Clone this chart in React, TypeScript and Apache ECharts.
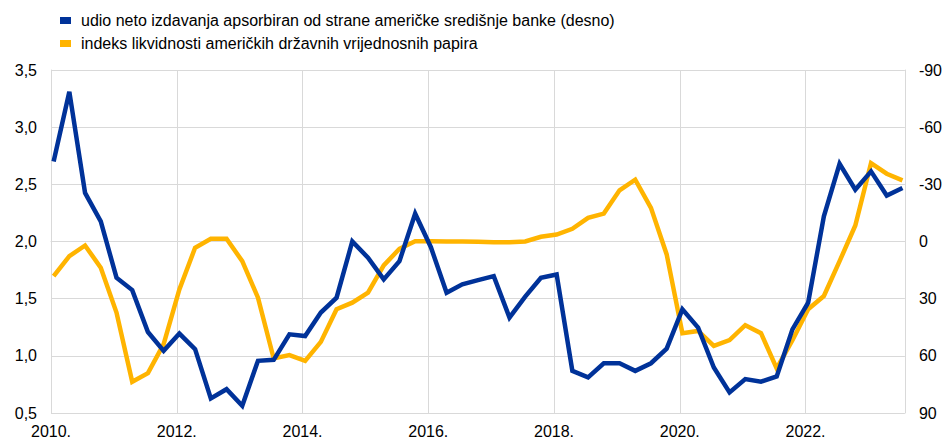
import React, { useEffect, useRef } from "react";
import * as echarts from "echarts";

// Quarterly observations, 2010 Q1 .. 2023 Q3
const startYear = 2010;
const quarterCount = 55;
const quarterDates: number[] = Array.from(
  { length: quarterCount },
  (_, i) => startYear + Math.floor(i / 4) + (i % 4) * 0.25 + 1 / 24
);

// Share of net issuance absorbed by the Fed (right axis, inverted)
const fedShare: number[] = [
  -42, -78.6, -25.5, -10.6, 19, 25.5, 47.5, 57.4, 48.3, 56.5, 82.3, 77.5, 86.2, 62.6,
  62.1, 48.7, 49.6, 37.3, 29.5, 0.0, 8.5, 19.9, 10.3, -14.6, 3, 26.9, 22.5, 20.3,
  18.2, 39.9, 28.9, 19.0, 17.3, 67.9, 71.3, 63.9, 63.9, 67.9, 63.9, 56.2, 35.6, 45.2,
  66.1, 79.2, 72.2, 73.6, 70.8, 46.1, 32.1, -13.2, -40.8, -27.2, -36.8, -24.1, -28.1,
];

// US Treasury liquidity index (left axis)
const liquidityIndex: number[] = [
  1.698, 1.872, 1.965, 1.771, 1.378, 0.773, 0.849, 1.102, 1.581, 1.945, 2.024, 2.024, 1.828, 1.509,
  0.977, 1.006, 0.956, 1.122, 1.407, 1.465, 1.552, 1.791, 1.936, 2.003, 2.003, 2.0, 2.0, 1.997,
  1.994, 1.994, 2.0, 2.041, 2.061, 2.111, 2.207, 2.244, 2.448, 2.541, 2.294, 1.887, 1.198, 1.218,
  1.087, 1.137, 1.268, 1.198, 0.89, 1.137, 1.407, 1.523, 1.828, 2.14, 2.686, 2.593, 2.535,
];

const seriesNames = [
  "udio neto izdavanja apsorbiran od strane američke središnje banke (desno)",
  "indeks likvidnosti američkih državnih vrijednosnih papira",
];

const BLUE = "#003299";
const YELLOW = "#ffb400";
const GRID = "#d9d9d9";
const FONT = "'Liberation Sans', Arial, sans-serif";

export default function App() {
  const ref = useRef<HTMLDivElement>(null);

  useEffect(() => {
    document.body.style.margin = "0";
    if (!ref.current) return;
    const chart = echarts.init(ref.current, null, { renderer: "svg" });
    const textBase = { fontFamily: FONT, fontSize: 16, color: "#000" };
    chart.setOption({
      animation: false,
      textStyle: { fontFamily: FONT },
      legend: {
        orient: "vertical",
        left: 55,
        top: 7,
        itemWidth: 11,
        itemHeight: 7,
        itemGap: 6,
        data: [
          { name: seriesNames[0], icon: "rect" },
          { name: seriesNames[1], icon: "rect" },
        ],
        textStyle: { ...textBase, lineHeight: 17, padding: [0, 0, 0, 5] },
      },
      grid: { left: 51, right: 37, top: 70, bottom: 25, containLabel: false },
      xAxis: {
        type: "value",
        min: 2010,
        max: 2023.58,
        interval: 2,
        axisLine: { show: true, lineStyle: { color: GRID, width: 1 } },
        axisTick: { show: false },
        splitLine: { show: true, lineStyle: { color: GRID, width: 1 } },
        axisLabel: {
          ...textBase,
          margin: 10,
          showMaxLabel: false,
          formatter: (v: number) => `${Math.round(v)}.`,
        },
      },
      yAxis: [
        {
          type: "value",
          position: "left",
          min: 0.5,
          max: 3.5,
          interval: 0.5,
          axisLine: { show: true, lineStyle: { color: GRID, width: 1 } },
          axisTick: { show: false },
          splitLine: { show: true, lineStyle: { color: GRID, width: 1 } },
          axisLabel: {
            ...textBase,
            margin: 14,
            formatter: (v: number) => v.toFixed(1).replace(".", ","),
          },
        },
        {
          type: "value",
          position: "right",
          min: -90,
          max: 90,
          interval: 30,
          inverse: true,
          axisLine: { show: true, lineStyle: { color: GRID, width: 1 } },
          axisTick: { show: false },
          splitLine: { show: false },
          axisLabel: { ...textBase, margin: 14, align: "left" },
        },
      ],
      series: [
        {
          name: seriesNames[1],
          type: "line",
          yAxisIndex: 0,
          showSymbol: false,
          symbol: "none",
          data: quarterDates.map((d, i) => [d, liquidityIndex[i]]),
          lineStyle: { color: YELLOW, width: 4.5, join: "miter" },
          itemStyle: { color: YELLOW },
          z: 2,
        },
        {
          name: seriesNames[0],
          type: "line",
          yAxisIndex: 1,
          showSymbol: false,
          symbol: "none",
          data: quarterDates.map((d, i) => [d, fedShare[i]]),
          lineStyle: { color: BLUE, width: 4.5, join: "miter" },
          itemStyle: { color: BLUE },
          z: 3,
        },
      ],
    });
    return () => chart.dispose();
  }, []);

  return <div ref={ref} style={{ width: 945, height: 439 }} />;
}
